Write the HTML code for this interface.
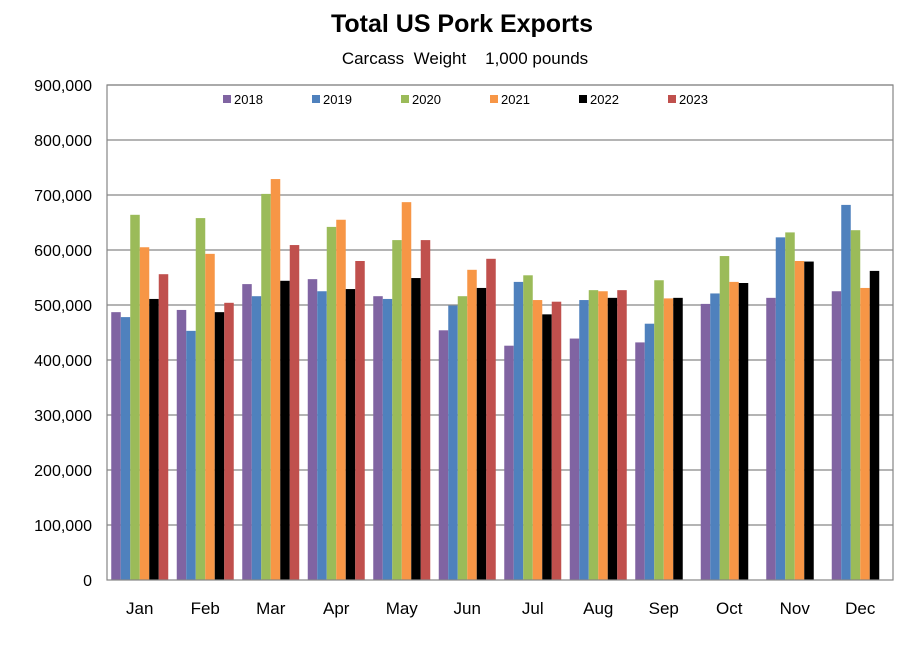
<!DOCTYPE html>
<html><head><meta charset="utf-8"><style>
html,body{margin:0;padding:0;background:#fff;}
svg{display:block;font-family:"Liberation Sans",Calibri,sans-serif;}
</style></head><body>
<svg id="chart" width="910" height="661" viewBox="0 0 910 661" xmlns="http://www.w3.org/2000/svg">
<text x="462" y="32" text-anchor="middle" font-size="25" font-weight="bold" fill="#000">Total US Pork Exports</text>
<text x="465" y="64" text-anchor="middle" font-size="17" fill="#000" xml:space="preserve">Carcass  Weight    1,000 pounds</text>
<g id="grid"></g><g id="bars"></g><g id="axes"></g><g id="legend"></g>
</svg>
<script>
const categories=["Jan","Feb","Mar","Apr","May","Jun","Jul","Aug","Sep","Oct","Nov","Dec"];
const seriesNames=["2018","2019","2020","2021","2022","2023"];
const s2018=[487,491,538,547,516,454,426,439,432,502,513,525];
const s2019=[478,453,516,525,511,499,542,509,466,521,623,682];
const s2020=[664,658,702,642,618,516,554,527,545,589,632,636];
const s2021=[605,593,729,655,687,564,509,525,512,542,580,531];
const s2022=[511,487,544,529,549,531,483,513,513,540,579,562];
const s2023=[556,504,609,580,618,584,506,527,null,null,null,null];
const yTicks=[0,100000,200000,300000,400000,500000,600000,700000,800000,900000];
const series=[s2018,s2019,s2020,s2021,s2022,s2023];
const colors=["#8064A2","#4F81BD","#9BBB59","#F79646","#000000","#C0504D"];
const NS="http://www.w3.org/2000/svg";
const L=107,R=893,T=85,B=580,yMax=900000;
const y=v=>B-(v/yMax)*(B-T);
const catW=(R-L)/categories.length;
const barW=9.5;
const x=(ci,si)=>L+ci*catW+(catW-barW*6)/2+si*barW;
function mk(tag,attrs,parent){const e=document.createElementNS(NS,tag);for(const k in attrs)e.setAttribute(k,attrs[k]);parent.appendChild(e);return e;}
const grid=document.getElementById('grid'),bars=document.getElementById('bars'),axes=document.getElementById('axes'),legend=document.getElementById('legend');
yTicks.forEach(t=>{
  if(t>0){const g=mk('line',{x1:L,x2:R,y1:y(t),y2:y(t),stroke:'#868686','stroke-width':1.2},grid);
  
  }
  const tx=mk('text',{x:92,y:y(t)+6,'text-anchor':'end','font-size':16,fill:'#000'},axes);
  tx.textContent=t.toLocaleString('en-US');
  
  
});
const frame=mk('rect',{x:L,y:T,width:R-L,height:B-T,fill:'none',stroke:'#868686','stroke-width':1.2},axes);


series.forEach((s,si)=>{s.forEach((v,ci)=>{
  if(v==null)return;
  const r=mk('rect',{x:x(ci,si),y:y(v*1000),width:barW,height:B-y(v*1000),fill:colors[si]},bars);
  
  
});});
categories.forEach((c,ci)=>{
  const t=mk('text',{x:L+ci*catW+catW/2,y:614,'text-anchor':'middle','font-size':17,fill:'#000'},axes);
  t.textContent=c;
  
  
});
seriesNames.forEach((n,si)=>{
  const gx=223+si*89;
  const g=mk('g',{},legend);
  
  
  mk('rect',{x:gx,y:95,width:8,height:8,fill:colors[si]},g);
  const t=mk('text',{x:gx+11,y:104,'font-size':13,fill:'#000'},g);
  t.textContent=n;
});
</script>
</body></html>
